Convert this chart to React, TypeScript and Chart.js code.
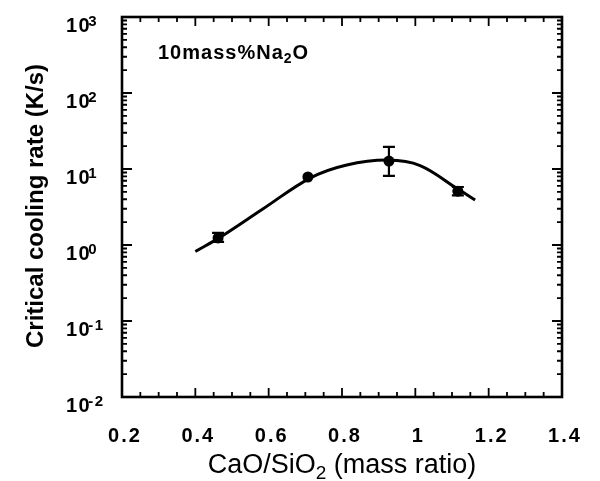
import React, { useEffect, useRef } from "react";
import { Chart, registerables } from "chart.js";

Chart.register(...registerables);

// ---- data ----
const xTickValues = [0.2, 0.4, 0.6, 0.8, 1.0, 1.2, 1.4];
const xTickLabels = ["0.2", "0.4", "0.6", "0.8", "1", "1.2", "1.4"];
const yDecades = [0.01, 0.1, 1, 10, 100, 1000];
const yExponents = ["-2", "-1", "0", "1", "2", "3"];

const pointX = [0.462, 0.707, 0.928, 1.116];
const pointY = [1.24, 7.85, 12.7, 5.1];
const errLow = [1.1, 7.85, 8.1, 4.5];
const errHigh = [1.44, 7.85, 19.5, 5.8];

const curveX = [0.4, 0.467, 0.585, 0.713, 0.813, 0.925, 1.013, 1.113, 1.163];
const curveY = [0.82, 1.26, 3.0, 7.6, 11.3, 13.1, 11.1, 5.57, 3.91];

const annotation = { pre: "10mass%Na", sub: "2", post: "O" };
const xTitle = { pre: "CaO/SiO", sub: "2", post: " (mass ratio)" };
const yTitle = "Critical cooling rate (K/s)";

const FONT = "'Liberation Sans', Arial, Helvetica, sans-serif";

const framePlugin = {
  id: "framePlugin",
  afterDatasetsDraw(chart: any) {
    const ctx = chart.ctx as CanvasRenderingContext2D;
    const xs = chart.scales.x;
    const ys = chart.scales.y;
    const { left, right, top, bottom } = chart.chartArea;
    ctx.save();
    ctx.strokeStyle = "#000";
    ctx.fillStyle = "#000";

    // error bars
    ctx.lineWidth = 2.2;
    for (let i = 0; i < pointX.length; i++) {
      if (errLow[i] === errHigh[i]) continue;
      const px = xs.getPixelForValue(pointX[i]);
      const pl = ys.getPixelForValue(errLow[i]);
      const ph = ys.getPixelForValue(errHigh[i]);
      ctx.beginPath();
      ctx.moveTo(px, pl);
      ctx.lineTo(px, ph);
      ctx.moveTo(px - 6, pl);
      ctx.lineTo(px + 6, pl);
      ctx.moveTo(px - 6, ph);
      ctx.lineTo(px + 6, ph);
      ctx.stroke();
    }

    // frame
    ctx.lineWidth = 2.6;
    ctx.strokeRect(left, top, right - left, bottom - top);

    // x ticks
    ctx.lineWidth = 1.8;
    const xmin = xTickValues[0];
    const xmax = xTickValues[xTickValues.length - 1];
    const nMinor = Math.round((xmax - xmin) / 0.05);
    for (let i = 0; i <= nMinor; i++) {
      const v = xmin + i * 0.05;
      const px = xs.getPixelForValue(v);
      const len = i % 4 === 0 ? 9 : 5;
      ctx.beginPath();
      ctx.moveTo(px, bottom);
      ctx.lineTo(px, bottom - len);
      ctx.moveTo(px, top);
      ctx.lineTo(px, top + len);
      ctx.stroke();
    }
    // y ticks
    for (let d = 0; d < yDecades.length; d++) {
      const base = yDecades[d];
      const mults = d === yDecades.length - 1 ? [1] : [1, 2, 3, 4, 5, 6, 7, 8, 9];
      for (const m of mults) {
        const py = ys.getPixelForValue(base * m);
        const len = m === 1 ? 10 : 5;
        ctx.beginPath();
        ctx.moveTo(left, py);
        ctx.lineTo(left + len, py);
        ctx.moveTo(right, py);
        ctx.lineTo(right - len, py);
        ctx.stroke();
      }
    }

    // x tick labels
    ctx.font = `bold 20px ${FONT}`;
    (ctx as any).letterSpacing = "2px";
    ctx.textAlign = "left";
    ctx.textBaseline = "alphabetic";
    for (let i = 0; i < xTickValues.length; i++) {
      const px = xs.getPixelForValue(xTickValues[i]);
      const w = ctx.measureText(xTickLabels[i]).width - 2;
      ctx.fillText(xTickLabels[i], px - w / 2 + 2, 442);
    }

    // y tick labels
    (ctx as any).letterSpacing = "1.5px";
    for (let i = 0; i < yDecades.length; i++) {
      const py = ys.getPixelForValue(yDecades[i]);
      ctx.font = `bold 20px ${FONT}`;
      ctx.fillText("10", 66, py + 15);
      const bw = ctx.measureText("10").width;
      ctx.font = `bold 15px ${FONT}`;
      ctx.fillText(yExponents[i], 66 + bw - 3, py + 9);
    }

    // annotation
    (ctx as any).letterSpacing = "1px";
    let ax = 158;
    const ay = 59;
    ctx.font = `bold 20px ${FONT}`;
    ctx.fillText(annotation.pre, ax, ay);
    ax += ctx.measureText(annotation.pre).width;
    ctx.font = `bold 14px ${FONT}`;
    ctx.fillText(annotation.sub, ax, ay + 4);
    ax += ctx.measureText(annotation.sub).width;
    ctx.font = `bold 20px ${FONT}`;
    ctx.fillText(annotation.post, ax, ay);

    // x title
    (ctx as any).letterSpacing = "0px";
    ctx.font = `27px ${FONT}`;
    const w1 = ctx.measureText(xTitle.pre).width;
    const w3 = ctx.measureText(xTitle.post).width;
    ctx.font = `19px ${FONT}`;
    const w2 = ctx.measureText(xTitle.sub).width;
    const total = w1 + w2 + w3;
    let tx = (left + right) / 2 - total / 2;
    const ty = 473;
    ctx.font = `27px ${FONT}`;
    ctx.fillText(xTitle.pre, tx, ty);
    tx += w1;
    ctx.font = `19px ${FONT}`;
    ctx.fillText(xTitle.sub, tx, ty + 6);
    tx += w2;
    ctx.font = `27px ${FONT}`;
    ctx.fillText(xTitle.post, tx, ty);

    // y title
    ctx.translate(43, 206);
    ctx.rotate(-Math.PI / 2);
    ctx.font = `bold 24px ${FONT}`;
    ctx.textAlign = "center";
    ctx.fillText(yTitle, 0, 0);

    ctx.restore();
  },
};

export default function App() {
  const ref = useRef<HTMLCanvasElement | null>(null);
  useEffect(() => {
    if (!ref.current) return;
    Chart.defaults.font.family = FONT;
    const chart = new Chart(ref.current, {
      type: "scatter",
      data: {
        datasets: [
          {
            label: "curve",
            data: curveX.map((x, i) => ({ x, y: curveY[i] })),
            showLine: true,
            pointRadius: 0,
            borderColor: "#000",
            borderWidth: 3,
            tension: 0.35,
          } as any,
          {
            label: "points",
            data: pointX.map((x, i) => ({ x, y: pointY[i] })),
            showLine: false,
            pointRadius: 5.5,
            pointBackgroundColor: "#000",
            pointBorderColor: "#000",
            pointBorderWidth: 0,
          },
        ],
      },
      options: {
        responsive: false,
        animation: false,
        devicePixelRatio: 1,
        layout: { padding: { left: 0, top: 17, right: 38, bottom: 0 } },
        plugins: { legend: { display: false }, tooltip: { enabled: false } },
        scales: {
          x: {
            type: "linear",
            min: xTickValues[0],
            max: xTickValues[xTickValues.length - 1],
            grid: { display: false },
            border: { display: false },
            ticks: { display: false },
            afterFit: (s: any) => {
              s.height = 84;
            },
          },
          y: {
            type: "logarithmic",
            min: yDecades[0],
            max: yDecades[yDecades.length - 1],
            grid: { display: false },
            border: { display: false },
            ticks: { display: false },
            afterFit: (s: any) => {
              s.width = 122;
            },
          },
        },
      },
      plugins: [framePlugin],
    });
    return () => chart.destroy();
  }, []);
  return (
    <div style={{ position: "absolute", left: 0, top: 0, width: 600, height: 481, background: "#fff" }}>
      <canvas ref={ref} width={600} height={481} />
    </div>
  );
}
